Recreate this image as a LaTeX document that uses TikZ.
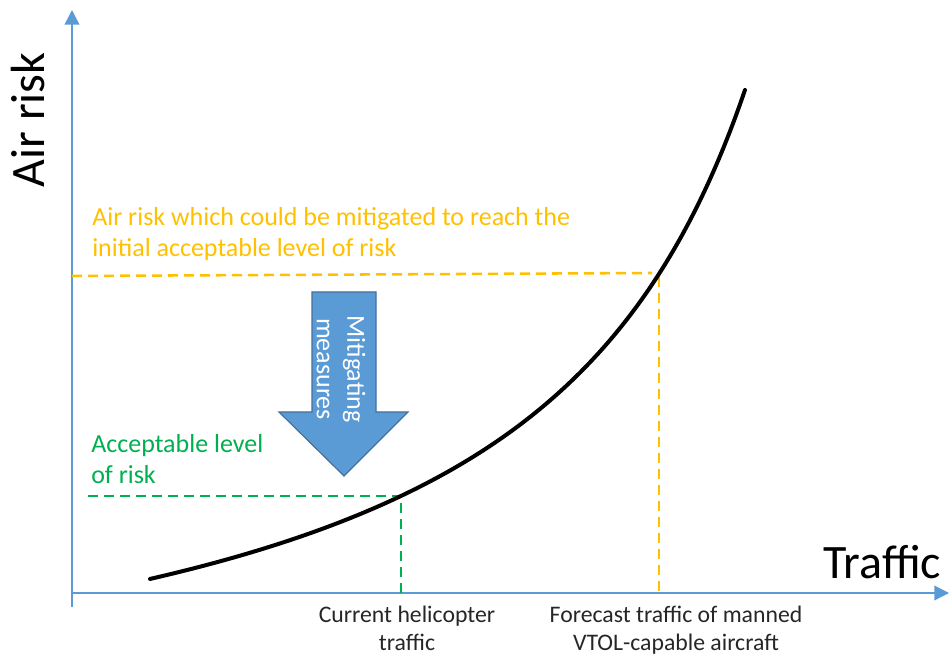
\documentclass[tikz,border=0pt]{standalone}
\usepackage{fontspec}
\setmainfont{Carlito}
\usetikzlibrary{arrows.meta}
\definecolor{axisblue}{HTML}{5B9BD5}
\definecolor{arrowfill}{HTML}{5B9BD5}
\definecolor{arrowedge}{HTML}{41719C}
\definecolor{riskyellow}{HTML}{FFC000}
\definecolor{riskgreen}{HTML}{00B050}
\begin{document}
\begin{tikzpicture}[x=0.75pt,y=-0.75pt,
  axisline/.style={draw=axisblue,line width=1.1pt,-{Triangle[length=11pt,width=11pt]}},
  yellowdash/.style={draw=riskyellow,line width=1.9pt,dash pattern=on 7.5pt off 4.5pt},
  greendash/.style={draw=riskgreen,line width=1.9pt,dash pattern=on 7.5pt off 4.5pt},
  bigtext/.style={font=\fontsize{36pt}{40pt}\selectfont,inner sep=0pt},
  lbltext/.style={font=\fontsize{19.5pt}{23.5pt}\selectfont,inner sep=0pt,align=left,anchor=north west},
  bottomtext/.style={font=\fontsize{17.8pt}{20.5pt}\selectfont,inner sep=0pt,align=center,anchor=north,text=black!85}]
\useasboundingbox (0,0) rectangle (951,655);
% axes
\coordinate (yb) at (72,607);
\coordinate (yt) at (72,10);
\coordinate (xl) at (72,593);
\coordinate (xr) at (949,593);
\draw[axisline] (yb) -- (yt);
\draw[axisline] (xl) -- (xr);
\node[bigtext,rotate=90,anchor=base] (ylab) at (45,120) {Air risk};
\node[bigtext,anchor=base west] (xlab) at (823,579) {Traffic};
% intersection points
\coordinate (pG) at (401,496);
\coordinate (pY) at (659,277);
\coordinate (gL) at (88,496);
\coordinate (gB) at (401,593);
\coordinate (yL) at (72,276);
\coordinate (yE) at (652,273);
\coordinate (yB) at (659,593);
% dashed lines
\draw[greendash] (gL) -- (pG) -- (gB);
\draw[yellowdash] (yL) -- (yE);
\draw[yellowdash] (pY) -- (yB);
% curve
\draw[line width=3pt,line cap=round,black] plot[domain=150:745,samples=120,smooth]
  (\x,{769.3-1573.35/((976.6-\x)/100)});
% labels
\node[lbltext,text=riskyellow] (ylbl) at (92,207) {Air risk which could be mitigated to reach the\\initial acceptable level of risk};
\node[lbltext,text=riskgreen] (glbl) at (91,434) {Acceptable level\\of risk};
\node[bottomtext] (cur) at (407,606) {Current helicopter\\traffic};
\node[bottomtext] (fut) at (676,606) {Forecast traffic of manned\\VTOL-capable aircraft};
% mitigating arrow
\draw[fill=arrowfill,draw=arrowedge,line width=0.9pt]
  (312,292) -- (376,292) -- (376,412) -- (408,412) -- (344,476) -- (279,412) -- (312,412) -- cycle;
\node[font=\fontsize{19.5pt}{23pt}\selectfont,text=white,align=center,rotate=-90,inner sep=0pt] (mit) at (341,369) {Mitigating\\measures};
\end{tikzpicture}
\end{document}
